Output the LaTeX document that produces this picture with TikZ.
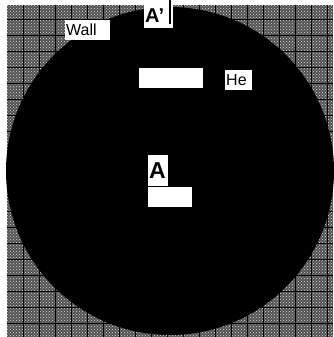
\documentclass[tikz,border=0pt]{standalone}
\usepackage{fontspec}
\setmainfont{Liberation Sans}
\usetikzlibrary{patterns}
\begin{document}
\begin{tikzpicture}[
   x=1pt,y=-1pt,
   wallzone/.style={fill=black!68},
   wallgrid/.style={black,line width=0.9pt},
   chamber/.style={fill=black},
   labelbox/.style={fill=white,inner sep=1pt,anchor=north west,align=left,
     font=\fontsize{16}{16}\selectfont},
   markbox/.style={fill=white,inner sep=1pt,anchor=north west,align=left,
     font=\bfseries\fontsize{20}{20}\selectfont},
   slab/.style={fill=white,inner sep=0pt,anchor=north west},
   tick/.style={black,line width=1.5pt}
 ]
 \useasboundingbox (0,0) rectangle (333,337);
 % Patterned wall behind the chamber.
 \fill[wallzone] (7,5) rectangle (333,337);
 \fill[pattern=crosshatch dots,pattern color=black!15] (7,5) rectangle (333,337);
 \foreach \gx in {23,39,...,333} {
   \draw[wallgrid] (\gx,5) -- (\gx,337);
 }
 \foreach \gy in {19,35,...,337} {
   \draw[wallgrid] (7,\gy) -- (333,\gy);
 }
 % The chamber itself.
 \fill[chamber] (170,171) circle[radius=164];
 % Labels and white slabs.
 \node[labelbox,text width=43,minimum height=20] (wall) at (65,20) {Wall};
 \node[labelbox,text width=25,minimum height=20] (he) at (225,70) {He};
 \node[markbox,text width=27,minimum height=25] (aprime) at (144,3) {A’};
 \node[slab,minimum width=64,minimum height=20] (upslab) at (139,68) {};
 \node[markbox,text width=18,minimum height=31,font=\bfseries\fontsize{23}{23}\selectfont]
   (amark) at (148,155) {A};
 \node[slab,minimum width=44,minimum height=20] (lowslab) at (amark.south west) {};
 \coordinate (tickend) at (170,0);
 \draw[tick] (tickend) -- ([yshift=4pt]aprime.south east -| tickend);
\end{tikzpicture}
\end{document}
